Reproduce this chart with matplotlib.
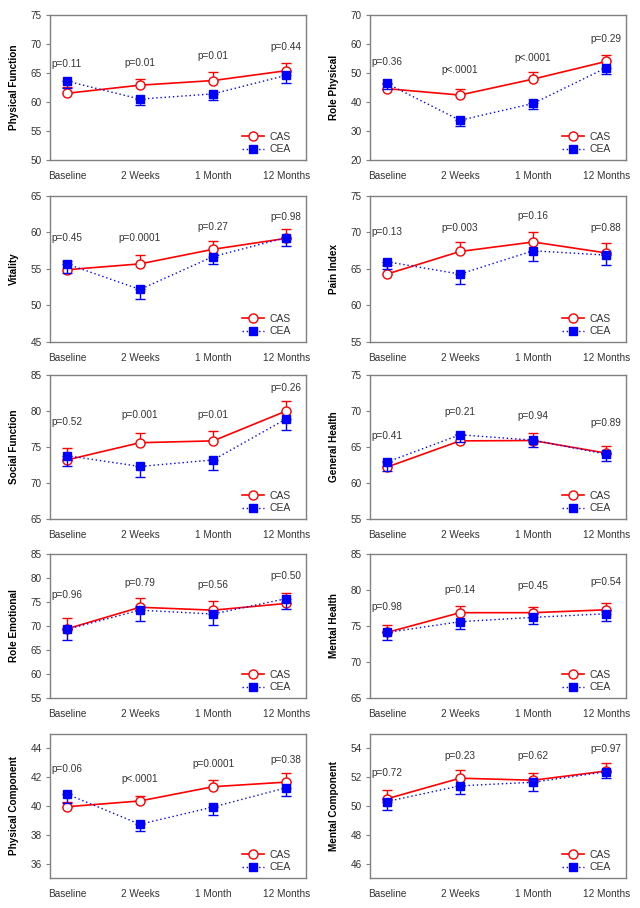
import matplotlib
matplotlib.use("Agg")
import matplotlib.pyplot as plt
from matplotlib.lines import Line2D

plt.rcParams['font.family'] = ['Liberation Sans', 'DejaVu Sans']

timepoints = ["Baseline", "2 Weeks", "1 Month", "12 Months"]

# Physical Function
pf_cas = [61.5, 62.9, 63.7, 65.4]
pf_cas_se = [1.1, 1.0, 1.4, 1.4]
pf_cea = [63.6, 60.5, 61.4, 64.6]
pf_cea_se = [1.1, 1.1, 1.1, 1.4]
pf_p = ["p=0.11", "p=0.01", "p=0.01", "p=0.44"]
pf_p_y = [66.5, 66.8, 67.9, 69.4]

# Role Physical
rp_cas = [44.6, 42.4, 47.9, 54.0]
rp_cas_se = [1.5, 2.2, 2.4, 2.3]
rp_cea = [46.4, 33.7, 39.5, 51.8]
rp_cea_se = [1.9, 2.1, 2.0, 2.3]
rp_p = ["p=0.36", "p<.0001", "p<.0001", "p=0.29"]
rp_p_y = [53.8, 51.0, 55.1, 61.6]

# Vitality
vt_cas = [54.9, 55.7, 57.7, 59.2]
vt_cas_se = [1.2, 1.15, 1.1, 1.3]
vt_cea = [55.7, 52.2, 56.7, 59.3]
vt_cea_se = [1.3, 1.3, 1.0, 1.2]
vt_p = ["p=0.45", "p=0.0001", "p=0.27", "p=0.98"]
vt_p_y = [59.3, 59.3, 60.7, 62.1]

# Pain Index
pi_cas = [64.3, 67.4, 68.7, 67.2]
pi_cas_se = [1.2, 1.35, 1.4, 1.4]
pi_cea = [66.0, 64.3, 67.5, 66.9]
pi_cea_se = [1.0, 1.3, 1.4, 1.4]
pi_p = ["p=0.13", "p=0.003", "p=0.16", "p=0.88"]
pi_p_y = [70.0, 70.6, 72.2, 70.6]

# Social Function
sf_cas = [73.2, 75.6, 75.85, 80.0]
sf_cas_se = [1.6, 1.4, 1.4, 1.35]
sf_cea = [73.8, 72.3, 73.2, 78.9]
sf_cea_se = [1.5, 1.5, 1.35, 1.5]
sf_p = ["p=0.52", "p=0.001", "p=0.01", "p=0.26"]
sf_p_y = [78.5, 79.4, 79.4, 83.15]

# General Health
gh_cas = [62.2, 65.85, 65.9, 64.15]
gh_cas_se = [0.9, 0.9, 1.0, 1.0]
gh_cea = [62.9, 66.7, 65.95, 64.0]
gh_cea_se = [1.2, 1.0, 1.0, 1.0]
gh_p = ["p=0.41", "p=0.21", "p=0.94", "p=0.89"]
gh_p_y = [66.5, 69.9, 69.3, 68.3]

# Role Emotional
re_cas = [69.4, 73.9, 73.3, 74.7]
re_cas_se = [2.3, 2.0, 1.9, 2.1]
re_cea = [69.3, 73.3, 72.5, 75.7]
re_cea_se = [2.2, 2.3, 2.3, 2.2]
re_p = ["p=0.96", "p=0.79", "p=0.56", "p=0.50"]
re_p_y = [76.5, 79.0, 78.6, 80.4]

# Mental Health
mh_cas = [74.1, 76.85, 76.85, 77.25]
mh_cas_se = [1.1, 0.9, 0.8, 0.95]
mh_cea = [74.1, 75.6, 76.2, 76.7]
mh_cea_se = [1.0, 1.0, 0.9, 1.0]
mh_p = ["p=0.98", "p=0.14", "p=0.45", "p=0.54"]
mh_p_y = [77.7, 80.0, 80.5, 81.1]

# Physical Component
pc_cas = [39.95, 40.35, 41.34, 41.66]
pc_cas_se = [0.3, 0.35, 0.5, 0.6]
pc_cea = [40.83, 38.73, 39.93, 41.27]
pc_cea_se = [0.6, 0.5, 0.58, 0.6]
pc_p = ["p=0.06", "p<.0001", "p=0.0001", "p=0.38"]
pc_p_y = [42.55, 41.85, 42.9, 43.2]

# Mental Component
mc_cas = [50.5, 51.93, 51.79, 52.43]
mc_cas_se = [0.62, 0.55, 0.53, 0.57]
mc_cea = [50.31, 51.4, 51.65, 52.38]
mc_cea_se = [0.57, 0.58, 0.6, 0.45]
mc_p = ["p=0.72", "p=0.23", "p=0.62", "p=0.97"]
mc_p_y = [52.3, 53.5, 53.5, 53.95]

panels = [
    ("Physical Function", pf_cas, pf_cas_se, pf_cea, pf_cea_se, pf_p, pf_p_y, (50, 75), range(50, 76, 5)),
    ("Role Physical", rp_cas, rp_cas_se, rp_cea, rp_cea_se, rp_p, rp_p_y, (20, 70), range(20, 71, 10)),
    ("Vitality", vt_cas, vt_cas_se, vt_cea, vt_cea_se, vt_p, vt_p_y, (45, 65), range(45, 66, 5)),
    ("Pain Index", pi_cas, pi_cas_se, pi_cea, pi_cea_se, pi_p, pi_p_y, (55, 75), range(55, 76, 5)),
    ("Social Function", sf_cas, sf_cas_se, sf_cea, sf_cea_se, sf_p, sf_p_y, (65, 85), range(65, 86, 5)),
    ("General Health", gh_cas, gh_cas_se, gh_cea, gh_cea_se, gh_p, gh_p_y, (55, 75), range(55, 76, 5)),
    ("Role Emotional", re_cas, re_cas_se, re_cea, re_cea_se, re_p, re_p_y, (55, 85), range(55, 86, 5)),
    ("Mental Health", mh_cas, mh_cas_se, mh_cea, mh_cea_se, mh_p, mh_p_y, (65, 85), range(65, 86, 5)),
    ("Physical Component", pc_cas, pc_cas_se, pc_cea, pc_cea_se, pc_p, pc_p_y, (35, 45), range(36, 45, 2)),
    ("Mental Component", mc_cas, mc_cas_se, mc_cea, mc_cea_se, mc_p, mc_p_y, (45, 55), range(46, 55, 2)),
]

RED = "#ff0000"
BLUE = "#0000ff"
FRAME = "#808080"
TXT = "#333333"

fig = plt.figure(figsize=(6.4, 9.08), dpi=100)

col_x = [50 / 640, 370 / 640]
row_px = [(15, 160), (196, 342), (375, 519), (554, 698), (734, 878)]
W = 256 / 640

xs = list(range(len(timepoints)))

for i, (name, cas, cas_se, cea, cea_se, pl, ply, ylim, yticks) in enumerate(panels):
    r, c = divmod(i, 2)
    top, bot = row_px[r]
    ax = fig.add_axes([col_x[c], 1 - bot / 908, W, (bot - top) / 908])

    zeros = [0] * len(cas)
    ax.errorbar(xs, cas, yerr=[zeros, cas_se], fmt='none', ecolor=RED,
                elinewidth=1.0, capsize=3.5, capthick=1.0, zorder=2)
    ax.plot(xs, cas, color=RED, lw=1.2, marker='o', ms=6.5, mfc='white',
            mec=RED, mew=1.0, zorder=3)
    ax.errorbar(xs, cea, yerr=[cea_se, zeros], fmt='none', ecolor=BLUE,
                elinewidth=1.0, capsize=3.5, capthick=1.0, zorder=4)
    ax.plot(xs, cea, color=BLUE, lw=1.0, ls=(0, (1, 2)), marker='s', ms=5.5,
            mfc=BLUE, mec=BLUE, zorder=5)

    for xi, (txt, yy) in enumerate(zip(pl, ply)):
        ax.text(xi, yy, txt, ha='center', va='center', fontsize=7.2, color=TXT)

    ax.set_xlim(-0.23, 3.27)
    ax.set_ylim(*ylim)
    ax.set_yticks(list(yticks))
    ax.set_xticks(xs)
    ax.set_xticklabels(timepoints)
    ax.tick_params(axis='x', length=0, pad=8, labelsize=7.2, labelcolor=TXT)
    ax.tick_params(axis='y', length=3, width=0.8, color=FRAME, pad=3,
                   labelsize=7.2, labelcolor=TXT)
    for s in ax.spines.values():
        s.set_color(FRAME)
        s.set_linewidth(1.0)

    ax.set_ylabel(name, fontsize=7.2, fontweight='bold', color='black')
    ax.yaxis.set_label_coords(-0.12, 0.5)

    handles = [
        Line2D([], [], color=RED, lw=1.2, marker='o', ms=6.5, mfc='white', mec=RED, mew=1.0),
        Line2D([], [], color=BLUE, lw=1.0, ls=(0, (1, 2)), marker='s', ms=5.5, mfc=BLUE, mec=BLUE),
    ]
    leg = ax.legend(handles, ["CAS", "CEA"], loc='lower right',
                    bbox_to_anchor=(0.94, 0.04), borderaxespad=0, borderpad=0,
                    frameon=False, fontsize=7.5, handlelength=2.1,
                    handletextpad=0.5, labelspacing=0.25)
    for t in leg.get_texts():
        t.set_color(TXT)

fig.savefig("out.png", dpi=100)
